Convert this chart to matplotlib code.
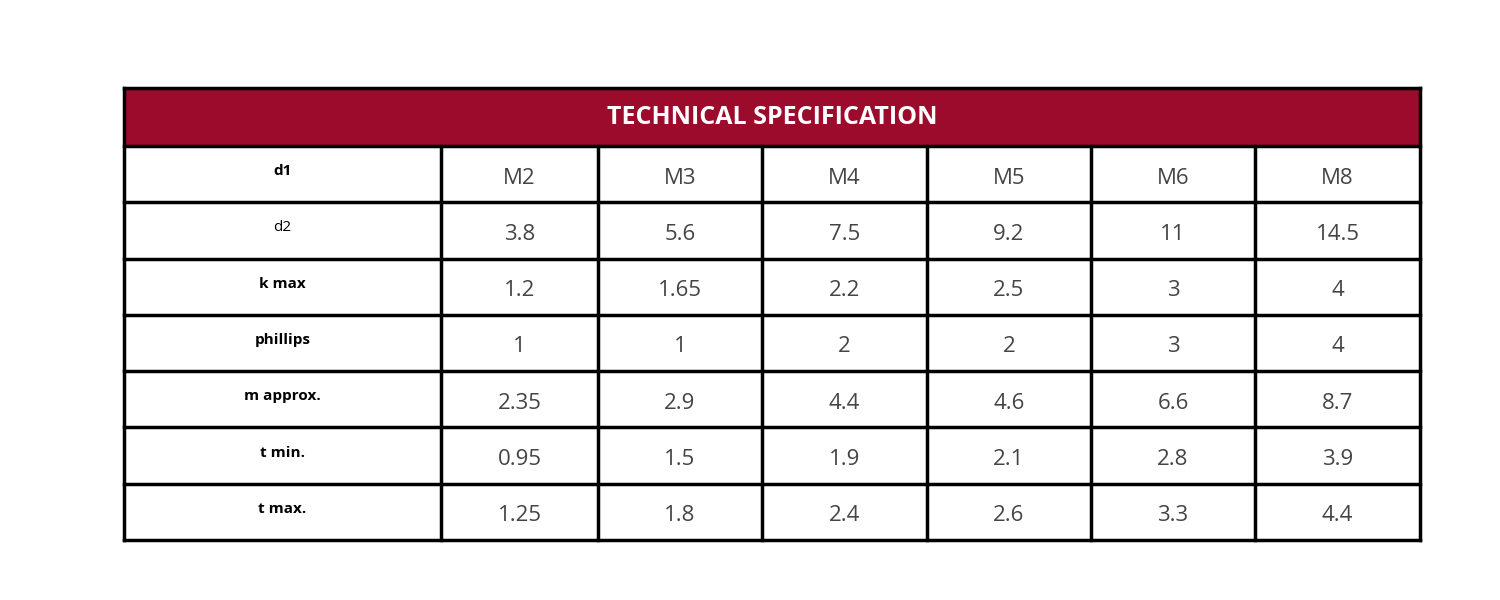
import matplotlib
matplotlib.use("Agg")
import matplotlib.pyplot as plt
from matplotlib.patches import Rectangle

title = "TECHNICAL SPECIFICATION"
row_labels = ["d1", "d2", "k max", "phillips", "m approx.", "t min.", "t max."]
label_bold = [True, False, True, True, True, True, True]
sizes = ["M2", "M3", "M4", "M5", "M6", "M8"]
d2 = ["3.8", "5.6", "7.5", "9.2", "11", "14.5"]
k_max = ["1.2", "1.65", "2.2", "2.5", "3", "4"]
phillips = ["1", "1", "2", "2", "3", "4"]
m_approx = ["2.35", "2.9", "4.4", "4.6", "6.6", "8.7"]
t_min = ["0.95", "1.5", "1.9", "2.1", "2.8", "3.9"]
t_max = ["1.25", "1.8", "2.4", "2.6", "3.3", "4.4"]
rows = [sizes, d2, k_max, phillips, m_approx, t_min, t_max]

fig = plt.figure(figsize=(15, 6), dpi=100)
ax = fig.add_axes([0, 0, 1, 1])
ax.set_xlim(0, 1500); ax.set_ylim(600, 0); ax.axis("off")

cols = [124, 441, 598, 762, 927, 1091, 1255, 1420]
top, head_bot, bot = 88, 146, 540
rh = (bot - head_bot) / len(rows)

ax.add_patch(Rectangle((cols[0], top), cols[-1]-cols[0], head_bot-top,
                       facecolor="#9C0A2C", edgecolor="none"))
ax.text((cols[0]+cols[-1])/2, (top+head_bot)/2+1, title, color="white",
        fontsize=18, fontweight="bold", family="Open Sans", ha="center", va="center")

lw = 2.5
for i in range(len(rows)+1):
    y = head_bot + i*rh
    ax.plot([cols[0], cols[-1]], [y, y], color="black", lw=lw)
ax.plot([cols[0], cols[-1]], [top, top], color="black", lw=lw)
for x in cols:
    y0 = top if x in (cols[0], cols[-1]) else head_bot
    ax.plot([x, x], [y0, bot], color="black", lw=lw)

for i, (lab, vals) in enumerate(zip(row_labels, rows)):
    yc = head_bot + (i+0.5)*rh
    ax.text((cols[0]+cols[1])/2, yc-3, lab, fontsize=11,
            fontweight="bold" if label_bold[i] else "normal",
            family="Open Sans", ha="center", va="center", color="black")
    for j, v in enumerate(vals):
        ax.text((cols[j+1]+cols[j+2])/2, yc+4, v, fontsize=16, family="Open Sans",
                ha="center", va="center", color="#444444")

fig.savefig("out.png", dpi=100, facecolor="white")
